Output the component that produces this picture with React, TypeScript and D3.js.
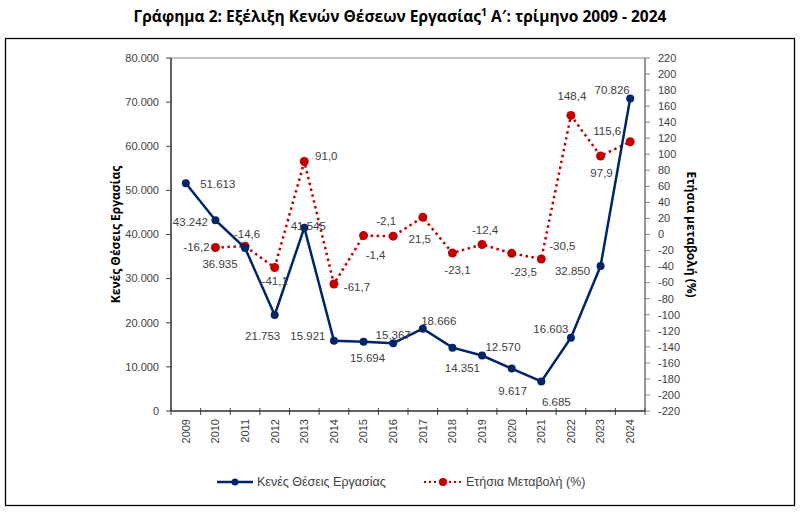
import * as d3 from "d3";

// years on the category axis
const years = ["2009", "2010", "2011", "2012", "2013", "2014", "2015", "2016", "2017", "2018", "2019", "2020", "2021", "2022", "2023", "2024"];
// vacancies, Q1 of each year
const vacancies = [51613, 43242, 36935, 21753, 41545, 15921, 15694, 15367, 18666, 14351, 12570, 9617, 6685, 16603, 32850, 70826];
// annual change (%), no value for 2009
const annualChange = [null, -16.2, -14.6, -41.1, 91.0, -61.7, -1.4, -2.1, 21.5, -23.1, -12.4, -23.5, -30.5, 148.4, 97.9, 115.6];

const leftTicks = [0, 10000, 20000, 30000, 40000, 50000, 60000, 70000, 80000];
const rightTicks = d3.range(-220, 221, 20);

// data label offsets (dx, dy) from the marker, in px
const vacLabelPos = [
  [32, 1], [-25, 2], [-25, 16], [-12, 21], [4, -2], [-26, -5], [4, 16], [0, -8],
  [16, -8], [10, 20], [21, -9], [1, 22], [15, 20], [-20, -9], [-28, 5], [-18, -9],
];
const chgLabelPos = [
  null, [-19, -1], [2, -12], [0, 14], [22, -6], [23, 3], [12, 19], [-7, -15],
  [-3, 22], [5, 17], [3, -14], [12, 19], [21, -13], [1, -19], [1, 17], [-23, -11],
];

const greek = d3.formatLocale({ decimal: ",", thousands: ".", grouping: [3], currency: ["", "€"], minus: "-" });
const fmtInt = greek.format(",.0f");
const fmtPct = greek.format(".1f");

const W = 800;
const H = 514;
const plot = { left: 171, right: 645, top: 58, bottom: 411 };
const BLUE = "#002566";
const RED = "#c00000";
const TXT = "#404040";
const FONT = "'Liberation Sans', Arial, sans-serif";

export default function App() {
  const x = d3.scaleBand().domain(years).range([plot.left, plot.right]).padding(0);
  const cx = (i: number) => (x(years[i]) as number) + x.bandwidth() / 2;
  const yL = d3.scaleLinear().domain([0, 80000]).range([plot.bottom, plot.top]);
  const yR = d3.scaleLinear().domain([-220, 220]).range([plot.bottom, plot.top]);

  const vacLine = d3
    .line<number>()
    .x((_, i) => cx(i))
    .y((d) => yL(d))(vacancies) as string;

  const chgPts = annualChange
    .map((v, i) => ({ v, i }))
    .filter((d) => d.v !== null) as { v: number; i: number }[];
  const chgLine = d3
    .line<{ v: number; i: number }>()
    .x((d) => cx(d.i))
    .y((d) => yR(d.v))(chgPts) as string;

  const bounds = years.map((y) => x(y) as number).concat([plot.right]);

  return (
    <svg width={W} height={H} style={{ position: "absolute", left: 0, top: 0, background: "#fff" }} fontFamily={FONT}>
      <rect x={0} y={0} width={W} height={H} fill="#fff" />
      {/* title */}
      <text x={400} y={22} textAnchor="middle" fontSize={15.5} fontWeight="bold" fill="#000" fontFamily="'Open Sans', sans-serif">
        Γράφημα 2: Εξέλιξη Κενών Θέσεων Εργασίας<tspan fontSize={10.5} dy={-6}>1</tspan>
        <tspan dy={6}> Α′: τρίμηνο 2009 - 2024</tspan>
      </text>
      {/* chart frame */}
      <rect x={5.5} y={38.5} width={789} height={467} fill="none" stroke="#000" strokeWidth={1.3} />
      {/* plot area */}
      <rect x={plot.left} y={plot.top} width={plot.right - plot.left} height={plot.bottom - plot.top} fill="none" stroke="#868686" strokeWidth={1} />

      {/* left axis */}
      <line x1={plot.left} x2={plot.left} y1={plot.top} y2={plot.bottom} stroke="#404040" strokeWidth={1.5} />
      {leftTicks.map((t) => (
        <g key={t}>
          <line x1={plot.left - 5} x2={plot.left} y1={yL(t)} y2={yL(t)} stroke="#404040" />
          <text x={plot.left - 12} y={yL(t)} dy="0.35em" textAnchor="end" fontSize={11} fill={TXT}>
            {fmtInt(t)}
          </text>
        </g>
      ))}
      <text transform={`translate(116,${(plot.top + plot.bottom) / 2}) rotate(-90)`} dy="0.35em" textAnchor="middle" fontSize={12} fontWeight="bold" fill="#000" fontFamily="'Open Sans', sans-serif">
        Κενές Θέσεις Εργασίας
      </text>

      {/* right axis */}
      <line x1={plot.right} x2={plot.right} y1={plot.top} y2={plot.bottom} stroke="#868686" strokeWidth={1.5} />
      {rightTicks.map((t) => (
        <g key={t}>
          <line x1={plot.right} x2={plot.right + 5} y1={yR(t)} y2={yR(t)} stroke="#868686" />
          <text x={plot.right + 13} y={yR(t)} dy="0.35em" textAnchor="start" fontSize={11} fill={TXT}>
            {greek.format("d")(t)}
          </text>
        </g>
      ))}
      <text transform={`translate(691,${(plot.top + plot.bottom) / 2}) rotate(90)`} dy="0.35em" textAnchor="middle" fontSize={12} fontWeight="bold" fill="#000" fontFamily="'Open Sans', sans-serif">
        Ετήσια μεταβολή (%)
      </text>

      {/* category axis */}
      <line x1={plot.left} x2={plot.right} y1={plot.bottom} y2={plot.bottom} stroke="#404040" strokeWidth={1.5} />
      {bounds.map((b, i) => (
        <line key={i} x1={b} x2={b} y1={plot.bottom - 3} y2={plot.bottom + 4} stroke="#404040" />
      ))}
      {years.map((yr, i) => (
        <text key={yr} transform={`translate(${cx(i)},${plot.bottom + 8}) rotate(-90)`} dy="0.35em" textAnchor="end" fontSize={11} fill={TXT}>
          {yr}
        </text>
      ))}

      {/* annual change series */}
      <path d={chgLine} fill="none" stroke={RED} strokeWidth={2.5} strokeDasharray="2.5 3.5" />
      {chgPts.map((d) => (
        <circle key={d.i} cx={cx(d.i)} cy={yR(d.v)} r={4.5} fill={RED} />
      ))}

      {/* vacancies series */}
      <path d={vacLine} fill="none" stroke={BLUE} strokeWidth={2.5} />
      {vacancies.map((v, i) => (
        <circle key={i} cx={cx(i)} cy={yL(v)} r={4} fill={BLUE} />
      ))}

      {/* data labels */}
      {vacancies.map((v, i) => (
        <text key={i} x={cx(i) + vacLabelPos[i][0]} y={yL(v) + vacLabelPos[i][1]} dy="0.35em" textAnchor="middle" fontSize={11.5} fill={TXT}>
          {fmtInt(v)}
        </text>
      ))}
      {chgPts.map((d) => (
        <text key={d.i} x={cx(d.i) + (chgLabelPos[d.i] as number[])[0]} y={yR(d.v) + (chgLabelPos[d.i] as number[])[1]} dy="0.35em" textAnchor="middle" fontSize={11.5} fill={TXT}>
          {fmtPct(d.v)}
        </text>
      ))}

      {/* legend */}
      <line x1={217} x2={253} y1={482} y2={482} stroke={BLUE} strokeWidth={2.5} />
      <circle cx={235} cy={482} r={3.5} fill={BLUE} />
      <text x={257} y={482} dy="0.35em" fontSize={12.5} fill={TXT}>
        Κενές Θέσεις Εργασίας
      </text>
      <line x1={424} x2={462} y1={482} y2={482} stroke={RED} strokeWidth={2} strokeDasharray="2 3" />
      <circle cx={443} cy={482} r={4} fill={RED} />
      <text x={466} y={482} dy="0.35em" fontSize={12.5} fill={TXT}>
        Ετήσια Μεταβολή (%)
      </text>
    </svg>
  );
}
